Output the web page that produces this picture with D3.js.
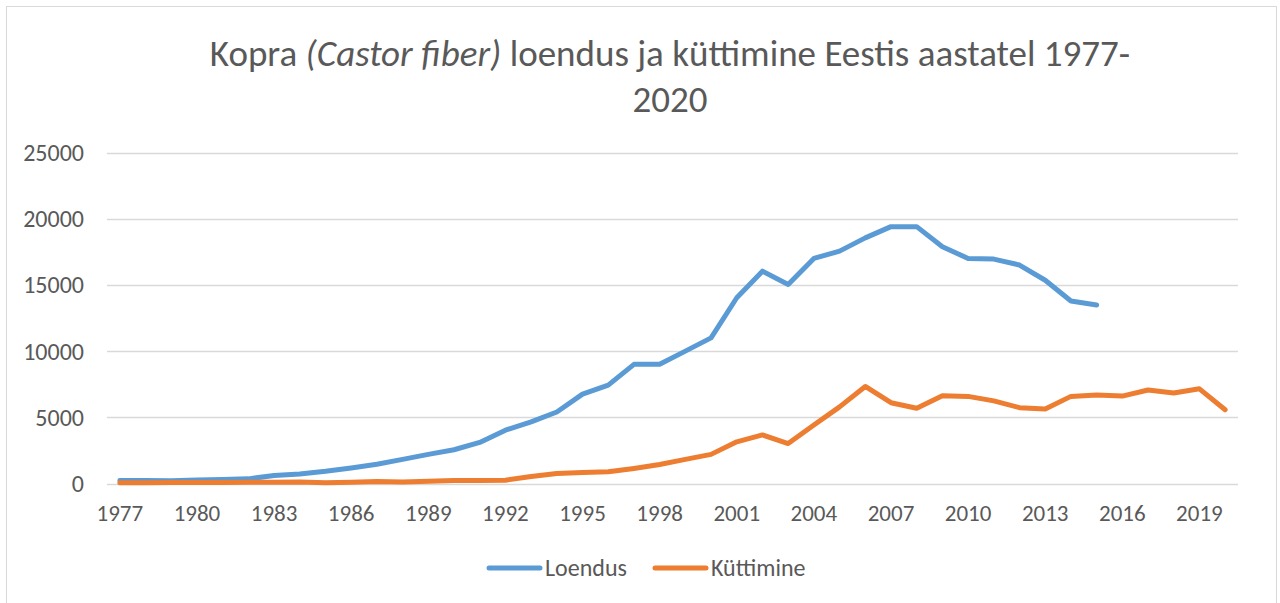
<!DOCTYPE html>
<html>
<head>
<meta charset="utf-8">
<script src="https://cdn.jsdelivr.net/npm/d3@7"></script>
<style>
  html, body { margin: 0; padding: 0; background: #fff; }
  svg { display: block; }
  text { font-family: Carlito, "Liberation Sans Narrow", Lato, sans-serif; fill: #595959; }
</style>
</head>
<body>
<svg id="chart" width="1280" height="603"></svg>
<script>
const YEARS = d3.range(1977, 2021);
// Loendus (count), 1977-2015
const LOENDUS = [230, 220, 210, 260, 300, 350, 600, 720, 920, 1170, 1460, 1820, 2200, 2550, 3100,
  4030, 4650, 5400, 6750, 7430, 9000, 9000, 10000, 11000, 14030, 16040, 15030, 17000, 17550, 18550,
  19400, 19400, 17880, 17000, 16950, 16500, 15350, 13780, 13480];
// Küttimine (hunting), 1977-2020
const KUTTIMINE = [60, 60, 70, 80, 80, 90, 90, 120, 60, 100, 150, 120, 170, 220, 220,
  250, 530, 760, 830, 880, 1140, 1440, 1820, 2200, 3150, 3670, 3020, 4420, 5790, 7330,
  6100, 5680, 6630, 6580, 6240, 5730, 5620, 6580, 6680, 6600, 7060, 6840, 7150, 5570];
const Y_TICKS = [0, 5000, 10000, 15000, 20000, 25000];
const X_LABEL_YEARS = YEARS.filter(y => (y - 1977) % 3 === 0);
const SERIES = [
  { name: 'Loendus', values: LOENDUS, color: '#5b9bd5' },
  { name: 'Küttimine', values: KUTTIMINE, color: '#ed7d31' }
];

const svg = d3.select('#chart');

// outer chart border
svg.append('rect')
  .attr('x', 6.5).attr('y', 6.5)
  .attr('width', 1270).attr('height', 620)
  .attr('fill', 'none').attr('stroke', '#d9d9d9');

const x = d3.scaleBand().domain(YEARS).range([107, 1238]);
const y = d3.scaleLinear().domain([0, 25000]).range([483.5, 152.5]);
const cx = yr => x(yr) + x.bandwidth() / 2;

// gridlines
svg.append('g')
  .selectAll('line')
  .data(Y_TICKS)
  .join('line')
  .attr('x1', 107).attr('x2', 1238)
  .attr('y1', d => Math.round(y(d)) + 0.5).attr('y2', d => Math.round(y(d)) + 0.5)
  .attr('stroke', '#d9d9d9').attr('stroke-width', 1.3);

// y labels
svg.append('g')
  .selectAll('text')
  .data(Y_TICKS)
  .join('text')
  .attr('x', 84).attr('y', d => y(d))
  .attr('dy', '0.35em')
  .attr('text-anchor', 'end')
  .attr('font-size', 24)
  .text(d => d);

// x labels
svg.append('g')
  .selectAll('text')
  .data(X_LABEL_YEARS)
  .join('text')
  .attr('x', d => cx(d)).attr('y', 521)
  .attr('text-anchor', 'middle')
  .attr('font-size', 23)
  .text(d => d);

// lines
const line = d3.line()
  .x((d, i) => cx(YEARS[i]))
  .y(d => y(d));

svg.append('g')
  .selectAll('path')
  .data(SERIES)
  .join('path')
  .attr('d', s => line(s.values))
  .attr('fill', 'none')
  .attr('stroke', s => s.color)
  .attr('stroke-width', 5)
  .attr('stroke-linejoin', 'round')
  .attr('stroke-linecap', 'round');

// title
const title = svg.append('text')
  .attr('x', 670).attr('y', 66)
  .attr('text-anchor', 'middle')
  .attr('font-size', 37);
title.append('tspan').text('Kopra ');
title.append('tspan').attr('font-style', 'italic').text('(Castor fiber)');
title.append('tspan').text(' loendus ja küttimine Eestis aastatel 1977-');
svg.append('text')
  .attr('x', 670).attr('y', 112)
  .attr('text-anchor', 'middle')
  .attr('font-size', 37)
  .text('2020');

// legend
const legend = svg.append('g')
  .selectAll('g')
  .data(SERIES)
  .join('g')
  .attr('transform', (d, i) => `translate(${i === 0 ? 489 : 655},568)`);
legend.append('line')
  .attr('x1', 0).attr('x2', 51)
  .attr('stroke', d => d.color)
  .attr('stroke-width', 5)
  .attr('stroke-linecap', 'round');
legend.append('text')
  .attr('x', 56).attr('dy', '0.35em')
  .attr('font-size', 24)
  .text(d => d.name);
</script>
</body>
</html>
